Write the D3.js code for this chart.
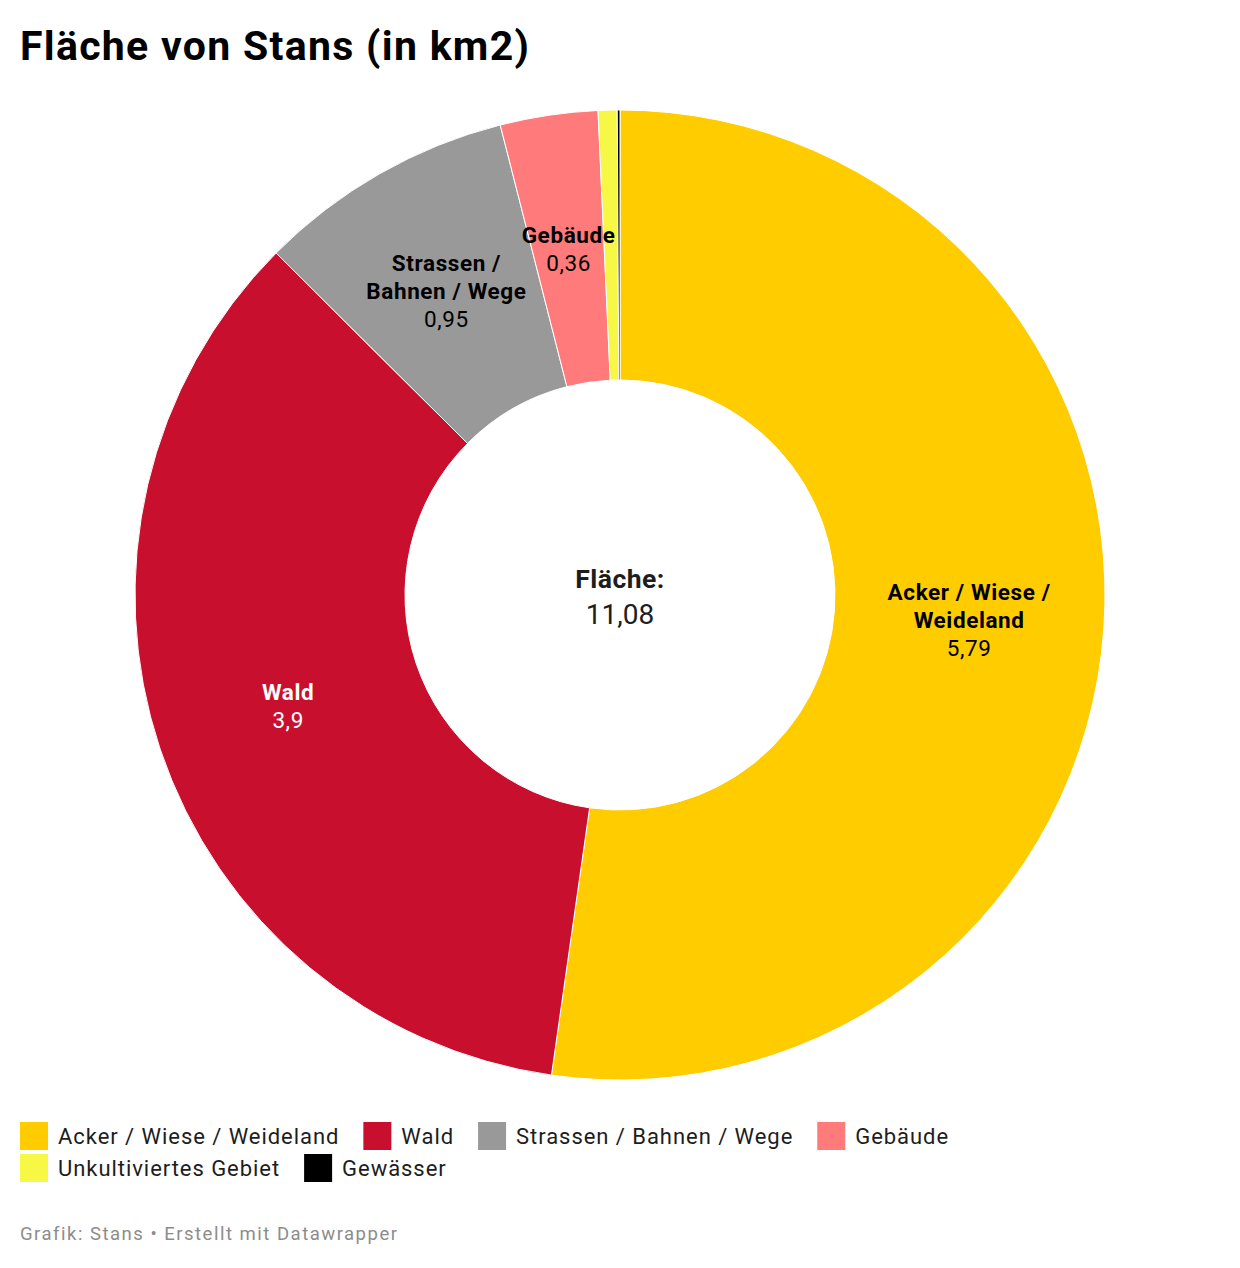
<!DOCTYPE html>
<html>
<head>
<meta charset="utf-8">
<script src="https://cdn.jsdelivr.net/npm/d3@7"></script>
<style>
  html, body { margin: 0; padding: 0; background: #fff; }
  svg text { font-family: Roboto, "Noto Sans", sans-serif; }
</style>
</head>
<body>
<div id="chart"></div>
<script>
(function () {
    'use strict';

    // Fläche von Stans, km2 – order as drawn clockwise from 12 o'clock
    const categories = ['Acker / Wiese / Weideland', 'Wald', 'Strassen / Bahnen / Wege',
        'Gebäude', 'Unkultiviertes Gebiet', 'Gewässer'];
    const values = [5.79, 3.9, 0.95, 0.36, 0.07, 0.01];
    const colors = ['#ffcc00', '#c8102e', '#999999', '#ff7b7b', '#f7f746', '#000000'];
    // wrapped label lines for slices big enough to carry a label
    const labelLines = [['Acker / Wiese /', 'Weideland'], ['Wald'], ['Strassen /', 'Bahnen / Wege'],
        ['Gebäude'], null, null];
    const labelColors = ['#000', '#fff', '#000', '#000', null, null];

    const W = 1240, H = 1268;
    const cx = 620, cy = 595, rOuter = 485, rInner = 215;
    const fmt = v => String(v).replace('.', ',');
    const total = d3.sum(values);

    const svg = d3.select('#chart').append('svg').attr('width', W).attr('height', H);

    svg.append('text').attr('x', 20).attr('y', 60)
        .attr('font-size', '41px').attr('font-weight', 700).attr('fill', '#000')
        .attr('letter-spacing', '1.3px')
        .text('Fläche von Stans (in km2)');

    const data = categories.map((name, i) => ({name, value: values[i], color: colors[i],
        lines: labelLines[i], lc: labelColors[i]}));

    const pie = d3.pie().value(d => d.value).sort(null);
    const arc = d3.arc().innerRadius(rInner).outerRadius(rOuter);
    const labelArc = d3.arc().innerRadius((rInner + rOuter) / 2).outerRadius((rInner + rOuter) / 2);

    const g = svg.append('g').attr('transform', `translate(${cx},${cy})`);
    const arcs = pie(data);

    g.selectAll('path.slice').data(arcs).join('path')
        .attr('class', 'slice')
        .attr('d', arc)
        .attr('fill', d => d.data.color)
        .attr('stroke', '#fff').attr('stroke-width', 1);

    // slice labels: bold name lines + regular value
    const LH = 28;
    arcs.filter(d => d.data.lines).forEach(d => {
        const [lx, ly] = labelArc.centroid(d);
        const lines = d.data.lines.map(t => ({t, bold: true})).concat([{t: fmt(d.data.value), bold: false}]);
        const y0 = ly - (lines.length - 1) * LH / 2;
        const t = g.append('text').attr('text-anchor', 'middle').attr('fill', d.data.lc)
            .attr('font-size', '22.5px').attr('letter-spacing', '0.6px');
        lines.forEach((ln, i) => {
            t.append('tspan').attr('x', lx).attr('y', y0 + i * LH).attr('dy', '0.35em')
                .attr('font-weight', ln.bold ? 700 : 400).text(ln.t);
        });
    });

    // centre total
    g.append('text').attr('text-anchor', 'middle').attr('y', -16).attr('dy', '0.35em')
        .attr('font-size', '26.5px').attr('font-weight', 700).attr('fill', '#1d1d1d')
        .attr('letter-spacing', '0.5px').text('Fläche:');
    g.append('text').attr('text-anchor', 'middle').attr('y', 19).attr('dy', '0.35em')
        .attr('font-size', '28px').attr('fill', '#1d1d1d').text(fmt(d3.format('.2f')(total)));

    // legend, wraps inside a fixed block width
    const legend = svg.append('g');
    const sw = 28, rowH = 32, gap = 24, legendRight = 970;
    let x = 20, row = 0;
    data.forEach(d => {
        const item = legend.append('g');
        item.append('rect').attr('width', sw).attr('height', sw).attr('fill', d.color);
        const txt = item.append('text').attr('x', sw + 10).attr('y', sw / 2).attr('dy', '0.35em')
            .attr('font-size', '22px').attr('letter-spacing', '0.95px').attr('fill', '#1d1d1d').text(d.name);
        const w = sw + 10 + txt.node().getComputedTextLength();
        if (x + w > legendRight && x > 20) { x = 20; row++; }
        item.attr('transform', `translate(${x},${1122 + row * rowH})`);
        x += w + gap;
    });

    svg.append('text').attr('x', 20).attr('y', 1240)
        .attr('font-size', '18.5px').attr('letter-spacing', '1.5px').attr('fill', '#8c8c8c')
        .text('Grafik: Stans • Erstellt mit Datawrapper');
})();
</script>
</body>
</html>
